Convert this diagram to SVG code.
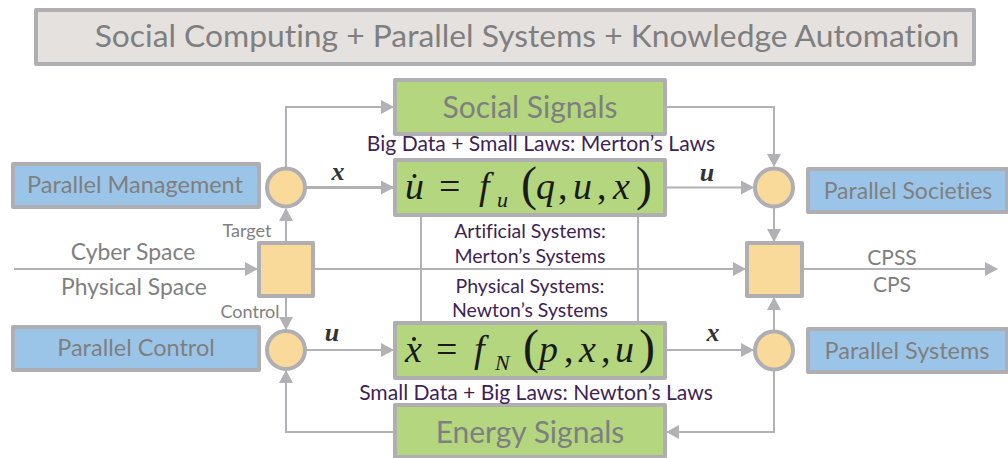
<svg xmlns="http://www.w3.org/2000/svg" width="1008" height="458" viewBox="0 0 1008 458">
<style>
text{font-family:"Lato","Open Sans","Liberation Sans",sans-serif;text-anchor:middle;fill:#7f7f7f;font-variant-ligatures:none}
.box{stroke:#afafb3;stroke-width:4;stroke-linejoin:round}
.g{fill:#b3d67f}.b{fill:#9bc5e8}.y{fill:#f9da9b}
.title{font-size:31.800px}.big{font-size:30px}.lab{font-size:23.500px}.ps{font-size:23px}.mid{font-size:22.900px}.cp{font-size:21px}.sm{font-size:18px}
.pur{font-size:19.500px;fill:#3f1f55}.pl{font-size:21.100px;fill:#3f1f55}
.m{font-family:"Liberation Serif",serif;font-style:italic;fill:#1a1a1a;font-size:38px;text-anchor:start}
.sub{font-size:22px}.par{font-size:48px;font-weight:normal}
.v{font-family:"Liberation Serif",serif;font-style:italic;font-weight:bold;fill:#333;font-size:26px}
.n{font-style:normal}
.c{fill:none;stroke:#b2b2b6;stroke-width:2}
.t{stroke-width:3}
.dot{fill:#1a1a1a}
</style>
<defs>
<marker id="a" markerUnits="userSpaceOnUse" markerWidth="13" markerHeight="14" refX="12" refY="7" orient="auto"><path d="M0 0L13 7L0 14Z" fill="#b2b2b6"/></marker>
</defs>
<rect width="1008" height="458" fill="#fff"/>
<g id="connectors">
<path class="c" d="M286 167V107H393" marker-end="url(#a)"/>
<path class="c t" d="M306 187.500H393" marker-end="url(#a)"/>
<path class="c" d="M286 241V209" marker-end="url(#a)"/>
<path class="c" d="M14 269H257" marker-end="url(#a)"/>
<path class="c" d="M286 297V329" marker-end="url(#a)"/>
<path class="c" d="M306 350H393" marker-end="url(#a)"/>
<path class="c" d="M393 432H286V371" marker-end="url(#a)"/>
<path class="c" d="M666 107H774V166" marker-end="url(#a)"/>
<path class="c" d="M666 187.500H753" marker-end="url(#a)"/>
<path class="c" d="M774 208V241" marker-end="url(#a)"/>
<path class="c" d="M314 269H745" marker-end="url(#a)"/>
<path class="c" d="M803 269H997" marker-end="url(#a)"/>
<path class="c" d="M666 350H753" marker-end="url(#a)"/>
<path class="c" d="M774 330V298" marker-end="url(#a)"/>
<path class="c" d="M774 371V432H667" marker-end="url(#a)"/>
<path class="c" d="M421 216V322M638 216V322"/>
</g>
<g id="title"><rect class="box" x="36" y="10" width="938" height="54" fill="#e5e1df"/><text class="title" x="527" y="47">Social Computing + Parallel Systems + Knowledge Automation</text></g>
<g id="social-signals"><rect class="box g" x="395" y="80" width="270" height="54"/><text class="big" x="530" y="118">Social Signals</text></g>
<g id="energy-signals"><rect class="box g" x="395" y="405" width="270" height="52"/><text class="big" x="530" y="443">Energy Signals</text></g>
<g id="eq-u"><rect class="box g" x="395" y="160" width="270" height="55"/>
<circle class="dot" cx="414.500" cy="176" r="2"/><text class="m" x="405" y="199">u</text>
<text class="m n" x="439" y="199">=</text><text class="m" x="479" y="199">f</text><text class="m sub" x="497" y="207">u</text>
<text class="m n par" x="521" y="200">(</text><text class="m" x="536" y="199">q</text><text class="m n" x="558" y="199">,</text><text class="m" x="573" y="199">u</text><text class="m n" x="597" y="199">,</text><text class="m" x="613" y="199">x</text><text class="m n par" x="636" y="200">)</text></g>
<g id="eq-x"><rect class="box g" x="395" y="323" width="270" height="55"/>
<circle class="dot" cx="414" cy="339" r="2"/><text class="m" x="405" y="362">x</text>
<text class="m n" x="436" y="362">=</text><text class="m" x="474" y="362">f</text><text class="m sub" x="495" y="370">N</text>
<text class="m n par" x="523" y="363">(</text><text class="m" x="539" y="362">p</text><text class="m n" x="564" y="362">,</text><text class="m" x="579" y="362">x</text><text class="m n" x="601" y="362">,</text><text class="m" x="615" y="362">u</text><text class="m n par" x="639" y="363">)</text></g>
<g id="parallel-management"><rect class="box b" x="13" y="164" width="246" height="43"/><text class="lab" x="135" y="193">Parallel Management</text></g>
<g id="parallel-control"><rect class="box b" x="13" y="327" width="246" height="43"/><text class="lab" x="136" y="356">Parallel Control</text></g>
<g id="parallel-societies"><rect class="box b" x="808" y="169" width="199" height="43"/><text class="ps" x="908" y="199">Parallel Societies</text></g>
<g id="parallel-systems"><rect class="box b" x="808" y="329" width="199" height="43"/><text class="lab" x="907" y="359">Parallel Systems</text></g>
<g id="circle-tl"><circle class="box y" cx="286" cy="187.500" r="19"/></g>
<g id="circle-bl"><circle class="box y" cx="286" cy="350" r="19"/></g>
<g id="circle-tr"><circle class="box y" cx="774" cy="187.500" r="19"/></g>
<g id="circle-br"><circle class="box y" cx="774" cy="350.500" r="19"/></g>
<g id="square-left"><rect class="box y" x="259" y="243" width="54" height="53"/></g>
<g id="square-right"><rect class="box y" x="747" y="243" width="55" height="53"/></g>
<g id="labels">
<text class="mid" x="133" y="260">Cyber Space</text>
<text class="mid" x="134" y="295">Physical Space</text>
<text class="sm" x="247" y="237">Target</text>
<text class="sm" x="250" y="318">Control</text>
<text class="cp" x="892" y="265">CPSS</text>
<text class="cp" x="892" y="292">CPS</text>
<text class="v" x="338" y="180">x</text>
<text class="v" x="707" y="181">u</text>
<text class="v" x="332" y="341">u</text>
<text class="v" x="713" y="341">x</text>
<text class="pl" x="541" y="151">Big Data + Small Laws: Merton’s Laws</text>
<text class="pl" x="536" y="400">Small Data + Big Laws: Newton’s Laws</text>
<text class="pur" x="530" y="238">Artificial Systems:</text>
<text class="pur" x="530" y="263">Merton’s Systems</text>
<text class="pur" x="530" y="293">Physical Systems:</text>
<text class="pur" x="530" y="317">Newton’s Systems</text>
</g>
</svg>
